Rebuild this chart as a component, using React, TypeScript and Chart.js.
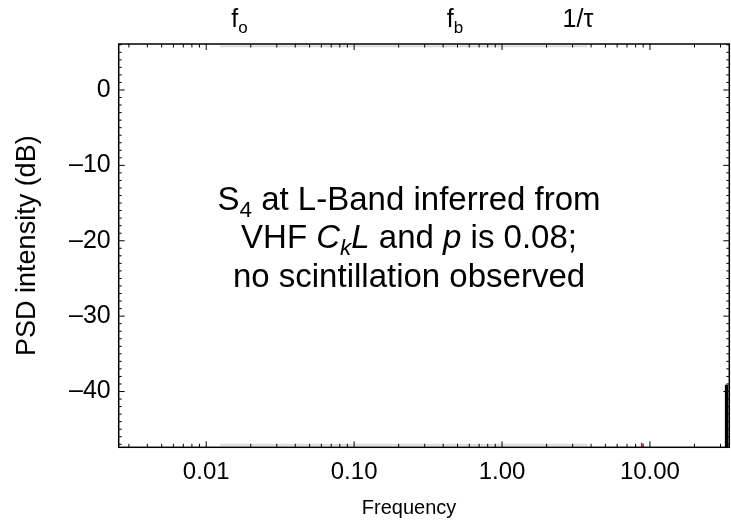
import React, { useEffect, useRef } from "react";
import { Chart, registerables } from "chart.js";
Chart.register(...registerables);

const FONT = "'Liberation Sans', Arial, Helvetica, sans-serif";

// Axis ranges and ticks
const xRange = [0.00256, 34.4];
const yRange = [-47.4, 6.1];
const xTickValues = [0.01, 0.1, 1, 10];
const xTickLabels = ["0.01", "0.10", "1.00", "10.00"];
const yTickValues = [0, -10, -20, -30, -40];
const yTickLabels = ["0", "\u201310", "\u201320", "\u201330", "\u201340"];
const xTitle = "Frequency";
const yTitle = "PSD intensity (dB)";

// Data marks
const blackBarX = [33, 33];
const blackBarY = [-39.1, -60];
const redLeftX = [0.0024, 0.00258];
const redLeftY = [-37.4, -38.2];
const redBottomX = [8.8, 8.8];
const redBottomY = [-46.8, -50];
const grayX = [0.0124, 3.76];
const grayBottomY = [-47.05, -47.05];
const grayTopY = [5.8, 5.8];

// Top markers (characteristic frequencies)
const markerNames = ["f", "f", "1/\u03c4"];
const markerSubs = ["o", "b", ""];
const markerX = [0.0168, 0.481, 3.26];

// Annotation
const annotationX = 0.235;
const annotationY = [-14.3, -19.4, -24.5];
type Seg = { t: string; it?: boolean; sub?: boolean };
const annotationLines: Seg[][] = [
  [{ t: "S" }, { t: "4", sub: true }, { t: " at L-Band inferred from" }],
  [
    { t: "VHF " },
    { t: "C", it: true },
    { t: "k", it: true, sub: true },
    { t: "L", it: true },
    { t: " and " },
    { t: "p", it: true },
    { t: " is 0.08;" },
  ],
  [{ t: "no scintillation observed" }],
];

function drawRich(ctx: CanvasRenderingContext2D, segs: Seg[], cx: number, cy: number, size: number) {
  const fontFor = (s: Seg) => `${s.it ? "italic " : ""}${s.sub ? size * 0.68 : size}px ${FONT}`;
  let total = 0;
  for (const s of segs) {
    ctx.font = fontFor(s);
    total += ctx.measureText(s.t).width;
  }
  let x = cx - total / 2;
  ctx.textBaseline = "alphabetic";
  ctx.textAlign = "left";
  const base = cy + size * 0.36;
  for (const s of segs) {
    ctx.font = fontFor(s);
    ctx.fillText(s.t, x, s.sub ? base + size * 0.22 : base);
    x += ctx.measureText(s.t).width;
  }
}

const framePlugin = {
  id: "framePlugin",
  afterDatasetsDraw(chart: any) {
    const { ctx, chartArea: a, scales } = chart;
    const xs = scales.x;
    const ys = scales.y;
    ctx.save();
    ctx.strokeStyle = "#000";
    ctx.lineWidth = 1.5;
    ctx.strokeRect(a.left, a.top, a.right - a.left, a.bottom - a.top);
    ctx.lineWidth = 1;
    for (let d = -4; d <= 2; d++) {
      for (let m = 1; m <= 9; m++) {
        const v = m * Math.pow(10, d);
        if (v <= xRange[0] || v >= xRange[1]) continue;
        const px = xs.getPixelForValue(v);
        const len = m === 1 ? 6 : 3.5;
        ctx.beginPath();
        ctx.moveTo(px, a.bottom);
        ctx.lineTo(px, a.bottom - len);
        ctx.moveTo(px, a.top);
        ctx.lineTo(px, a.top + len);
        ctx.stroke();
      }
    }
    for (let v = Math.ceil(yRange[0]); v <= yRange[1]; v++) {
      const py = ys.getPixelForValue(v);
      const len = v % 10 === 0 ? 6 : 3;
      ctx.beginPath();
      ctx.moveTo(a.left, py);
      ctx.lineTo(a.left + len, py);
      ctx.moveTo(a.right, py);
      ctx.lineTo(a.right - len, py);
      ctx.stroke();
    }
    ctx.fillStyle = "#000";
    markerNames.forEach((name, i) => {
      const px = xs.getPixelForValue(markerX[i]);
      const segs: Seg[] = [{ t: name }];
      if (markerSubs[i]) segs.push({ t: markerSubs[i], sub: true });
      drawRich(ctx, segs, px, 18, 25);
    });
    annotationLines.forEach((line, i) => {
      drawRich(ctx, line, xs.getPixelForValue(annotationX), ys.getPixelForValue(annotationY[i]), 33);
    });
    ctx.font = `20px ${FONT}`;
    ctx.textAlign = "center";
    ctx.textBaseline = "middle";
    ctx.fillText(xTitle, xs.getPixelForValue(annotationX), a.bottom + 61);
    ctx.restore();
  },
};

export default function App() {
  const ref = useRef<HTMLCanvasElement | null>(null);
  useEffect(() => {
    if (!ref.current) return;
    const pts = (xa: number[], ya: number[]) => xa.map((x, i) => ({ x, y: ya[i] }));
    const line = (xa: number[], ya: number[], color: string, w: number) =>
      ({ data: pts(xa, ya), borderColor: color, borderWidth: w, pointRadius: 0, clip: 0 } as any);
    const chart = new Chart(ref.current, {
      type: "line",
      data: {
        datasets: [
          line(grayX, grayBottomY, "#dcdcdc", 2),
          line(grayX, grayTopY, "#dcdcdc", 2),
          line(blackBarX, blackBarY, "#000", 3.5),
          line(redLeftX, redLeftY, "#ff0000", 1.5),
          line(redBottomX, redBottomY, "#ff0000", 1.5),
        ],
      },
      options: {
        animation: false,
        responsive: false,
        events: [],
        layout: { padding: { top: 44, right: 1.7, left: 0, bottom: 0 } },
        plugins: { legend: { display: false }, tooltip: { enabled: false } },
        scales: {
          x: {
            type: "logarithmic",
            min: xRange[0],
            max: xRange[1],
            grid: { display: false, drawTicks: false },
            border: { display: false },
            afterBuildTicks: (s: any) => {
              s.ticks = xTickValues.map((value) => ({ value }));
            },
            afterFit: (s: any) => {
              s.height = 522 - 447.3;
            },
            ticks: {
              padding: 11,
              color: "#000",
              font: { family: FONT, size: 24 },
              maxRotation: 0,
              autoSkip: false,
              callback: (v: any) => {
                const i = xTickValues.findIndex((t) => Math.abs(t - v) / t < 1e-6);
                return i >= 0 ? xTickLabels[i] : "";
              },
            },
          },
          y: {
            type: "linear",
            min: yRange[0],
            max: yRange[1],
            grid: { display: false, drawTicks: false },
            border: { display: false },
            afterBuildTicks: (s: any) => {
              s.ticks = yTickValues.map((value) => ({ value }));
            },
            afterFit: (s: any) => {
              s.width = 118.7;
            },
            ticks: {
              padding: 8,
              color: "#000",
              font: { family: FONT, size: 25 },
              callback: (v: any) => {
                const i = yTickValues.indexOf(v);
                return i >= 0 ? yTickLabels[i] : "";
              },
            },
            title: {
              display: true,
              text: yTitle,
              color: "#000",
              font: { family: FONT, size: 27 },
              padding: { top: 11, bottom: 0 },
            },
          },
        },
      },
      plugins: [framePlugin],
    } as any);
    return () => chart.destroy();
  }, []);
  return (
    <div style={{ position: "fixed", left: 0, top: 0, width: 731, height: 522, background: "#fff" }}>
      <canvas ref={ref} width={731} height={522} style={{ display: "block" }} />
    </div>
  );
}
